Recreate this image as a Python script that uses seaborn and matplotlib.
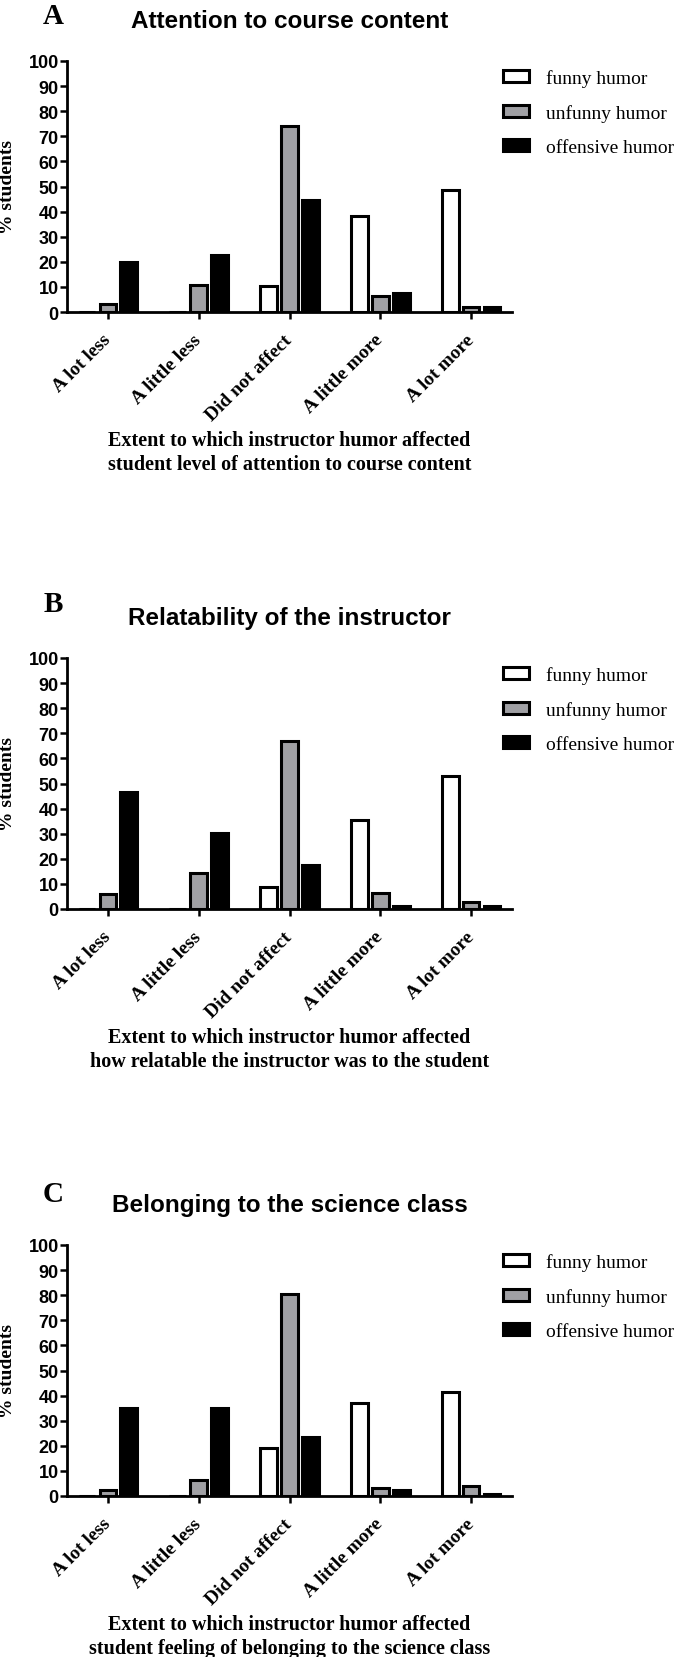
import numpy as np
import pandas as pd
import matplotlib
matplotlib.use('Agg')
import matplotlib.pyplot as plt
import seaborn as sns

categories = ['A lot less', 'A little less', 'Did not affect', 'A little more', 'A lot more']
humor_types = ['funny humor', 'unfunny humor', 'offensive humor']
colors = ['white', '#a0a0a4', 'black']

# panel A - attention to course content
attention_funny = [0, 0, 10.2, 38.3, 48.6]
attention_unfunny = [3.3, 10.7, 74.2, 6.2, 2.0]
attention_offensive = [20.1, 22.8, 44.6, 7.5, 2.0]

# panel B - relatability of the instructor
relatable_funny = [0, 0, 8.9, 35.4, 52.9]
relatable_unfunny = [6.0, 14.3, 66.8, 6.3, 2.9]
relatable_offensive = [46.7, 30.2, 17.6, 1.0, 1.0]

# panel C - belonging to the science class
belonging_funny = [0, 0, 19.3, 37.2, 41.4]
belonging_unfunny = [2.3, 6.5, 80.6, 3.1, 3.9]
belonging_offensive = [35.2, 35.2, 23.6, 2.5, 0.8]

panels = [
    ('A', 'Attention to course content',
     'Extent to which instructor humor affected\nstudent level of attention to course content',
     attention_funny, attention_unfunny, attention_offensive),
    ('B', 'Relatability of the instructor',
     'Extent to which instructor humor affected\nhow relatable the instructor was to the student',
     relatable_funny, relatable_unfunny, relatable_offensive),
    ('C', 'Belonging to the science class',
     'Extent to which instructor humor affected\nstudent feeling of belonging to the science class',
     belonging_funny, belonging_unfunny, belonging_offensive),
]

sns.set_style('ticks')
serif = ['Liberation Serif', 'DejaVu Serif']
sans = ['Liberation Sans', 'DejaVu Sans']
plt.rcParams['font.family'] = serif
plt.rcParams['text.color'] = 'black'
plt.rcParams['axes.labelcolor'] = 'black'
plt.rcParams['xtick.color'] = 'black'
plt.rcParams['ytick.color'] = 'black'

W, H = 680, 1658
fig = plt.figure(figsize=(W / 100, H / 100), dpi=100)

# layout in pixels
tops = [62, 659, 1246]
letter_off = [45, 54, 51]
ax_h = 251
left, right = 67, 512
ax_w = right - left

for i, (letter, title, xlabel, funny, unfunny, offensive) in enumerate(panels):
    top = tops[i]
    ax = fig.add_axes([left / W, 1 - (top + ax_h) / H, ax_w / W, ax_h / H])

    df = pd.DataFrame({
        'extent': categories * 3,
        'humor': np.repeat(humor_types, len(categories)),
        'pct': funny + unfunny + offensive,
    })
    sns.barplot(data=df, x='extent', y='pct', hue='humor', order=categories,
                hue_order=humor_types, palette=colors, saturation=1,
                edgecolor='black', linewidth=2.2, width=0.69, gap=0.2,
                errorbar=None, ax=ax)

    ax.set_xlim(-0.45, 4.45)
    ax.set_ylim(0, 100)
    ax.set_yticks(range(0, 101, 10))
    ax.set_xticks(range(len(categories)))
    ax.set_xticklabels(categories, rotation=45, ha='right', va='center',
                       rotation_mode='anchor', fontsize=14, fontweight='bold',
                       family=serif, color='black')
    for lab in ax.get_yticklabels():
        lab.set_family(sans)
        lab.set_fontweight('bold')
        lab.set_fontsize(13)
        lab.set_color('black')
    ax.tick_params(axis='both', width=1.8, length=5, color='black')
    ax.tick_params(axis='y', pad=1)
    ax.tick_params(axis='x', pad=13)
    ax.set_xlabel('')
    ax.set_ylabel('')
    sns.despine(ax=ax)
    for s in ['left', 'bottom']:
        ax.spines[s].set_linewidth(2)
        ax.spines[s].set_color('black')

    ax.text(0.5, 1 + 40 / ax_h, title, transform=ax.transAxes, ha='center',
            va='center', fontsize=17.5, fontweight='bold', family=sans)
    ax.text((53 - left) / ax_w, 1 + letter_off[i] / ax_h, letter,
            transform=ax.transAxes, ha='center', va='center', fontsize=21,
            fontweight='bold', family=serif)
    ax.text((8 - left) / ax_w, 0.5, '% students', transform=ax.transAxes,
            rotation=90, ha='center', va='center', fontsize=14,
            fontweight='bold', family=serif)
    ax.text(0.5, -140 / ax_h, xlabel, transform=ax.transAxes, ha='center',
            va='center', fontsize=14.5, fontweight='bold', family=serif,
            linespacing=1.3)

    leg = ax.legend(loc='upper left', bbox_to_anchor=((503 - left) / ax_w, 1 - 8 / ax_h),
                    frameon=False, prop={'family': serif, 'size': 14},
                    handlelength=1.35, handleheight=0.55, handletextpad=0.85,
                    labelspacing=0.88, borderaxespad=0, borderpad=0)
    for t in leg.get_texts():
        t.set_color('black')

fig.savefig('out.png', dpi=100)
